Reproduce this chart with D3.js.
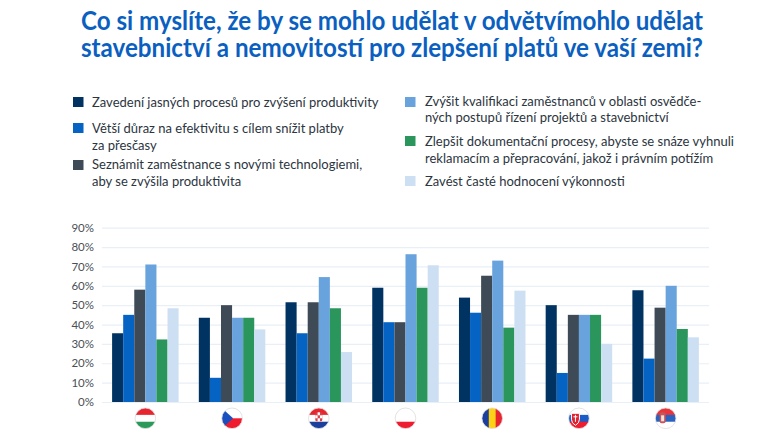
<!DOCTYPE html>
<html><head><meta charset="utf-8">
<script src="https://cdnjs.cloudflare.com/ajax/libs/d3/7.8.5/d3.min.js"></script>
<style>html,body{margin:0;padding:0;background:#fff}svg{display:block;font-family:Lato,sans-serif}</style>
</head><body><svg id="c" width="780" height="438"></svg>
<script>
const titleLines=["Co si myslíte, že by se mohlo udělat v odvětvímohlo udělat","stavebnictví a nemovitostí pro zlepšení platů ve vaší zemi?"];
const countries=["Maďarsko","Česko","Chorvatsko","Polsko","Rumunsko","Slovensko","Srbsko"];
const seriesNames=["Zavedení jasných procesů pro zvýšení produktivity","Větší důraz na efektivitu s cílem snížit platby za přesčasy","Seznámit zaměstnance s novými technologiemi, aby se zvýšila produktivita","Zvýšit kvalifikaci zaměstnanců v oblasti osvědčených postupů řízení projektů a stavebnictví","Zlepšit dokumentační procesy, abyste se snáze vyhnuli reklamacím a přepracování, jakož i právním potížím","Zavést časté hodnocení výkonnosti"];
const legendLines=[["Zavedení jasných procesů pro zvýšení produktivity"],["Větší důraz na efektivitu s cílem snížit platby","za přesčasy"],["Seznámit zaměstnance s novými technologiemi,","aby se zvýšila produktivita"],["Zvýšit kvalifikaci zaměstnanců v oblasti osvědče-","ných postupů řízení projektů a stavebnictví"],["Zlepšit dokumentační procesy, abyste se snáze vyhnuli","reklamacím a přepracování, jakož i právním potížím"],["Zavést časté hodnocení výkonnosti"]];
const colors=["#003262","#0563c4","#3e4a56","#68a3de","#2a965c","#cde0f3"];
const s1=[35.5,43.5,51.5,59,53.9,50,57.7];
const s2=[45,12.5,35.5,41.2,46.1,15,22.4];
const s3=[58,50,51.5,41.2,65.2,45,48.7];
const s4=[71,43.5,64.5,76.3,73,45,60];
const s5=[32.3,43.5,48.4,59,38.4,45,37.7];
const s6=[48.4,37.5,25.8,70.6,57.5,30,33.4];
const series=[s1,s2,s3,s4,s5,s6];
const yTicks=[0,10,20,30,40,50,60,70,80,90];

const svg=d3.select("#c");
const tc="#0a5fc0";
svg.selectAll("text.t").data(titleLines).join("text").attr("class","t")
 .attr("x",392).attr("y",(d,i)=>[30,57][i]).attr("text-anchor","middle")
 .attr("font-size",26).attr("font-weight",700).attr("fill",tc)
 .text(d=>d).attr("textLength",622).attr("lengthAdjust","spacingAndGlyphs");

const legendPos=[[73,102,92,[107]],[73,128,92,[133,150]],[73,165,92,[169,186]],[405,102,425,[106,122]],[405,141,425,[146,163]],[405,181,425,[186]]];
legendLines.forEach((lines,i)=>{
 const [mx,my,tx,ys]=legendPos[i];
 svg.append("rect").attr("x",mx).attr("y",my-5).attr("width",10.5).attr("height",10).attr("fill",colors[i]);
 lines.forEach((l,j)=>svg.append("text").attr("x",tx).attr("y",ys[j]).attr("font-size",13).attr("fill","#2c3540").text(l));
});

const x=d3.scaleBand().domain(countries).range([102,709]).paddingInner(0.233).paddingOuter(0.1165);
const x1=d3.scaleBand().domain(d3.range(6)).range([0,x.bandwidth()]);
const y=d3.scaleLinear().domain([0,90]).range([402,227.7]);

svg.append("g").attr("transform","translate(102,0)")
 .call(d3.axisLeft(y).tickValues(yTicks).tickFormat(d=>d+"%").tickSize(-607).tickPadding(8))
 .call(g=>g.select(".domain").remove())
 .call(g=>g.selectAll("line").attr("stroke","#e8eff7").attr("stroke-width",1.2))
 .call(g=>g.selectAll("text").attr("font-family","Lato").attr("font-size",11.5).attr("fill","#4a4f55"));

series.forEach((vals,si)=>{
 svg.append("g").selectAll("rect").data(vals).join("rect")
  .attr("x",(d,i)=>x(countries[i])+x1(si)).attr("width",x1.bandwidth())
  .attr("y",d=>y(d)).attr("height",d=>y(0)-y(d)).attr("fill",colors[si]);
});

// flags: horizontal stripes as [fraction, colour], or vertical stripes
const flagH={"Maďarsko":["#e8252f","#ffffff","#2a9a5a"],"Chorvatsko":["#e8252f","#ffffff","#1c3f9c"],"Polsko":["#ffffff","#ffffff","#ee1c2e"].slice(0),"Slovensko":["#ffffff","#1a5cc8","#ee1c2e"],"Srbsko":["#e8343a","#2a62c0","#ffffff"]};
const flagV={"Rumunsko":["#1c3f9c","#fcd116","#e8252f"]};
const defs=svg.append("defs");
const r=10.3,fy=418.3;
countries.forEach((c,i)=>{
 const cx=x(c)+x.bandwidth()/2;
 defs.append("clipPath").attr("id","f"+i).append("circle").attr("cx",cx).attr("cy",fy).attr("r",r);
 const g=svg.append("g").attr("clip-path",`url(#f${i})`);
 g.append("rect").attr("x",cx-r).attr("y",fy-r).attr("width",2*r).attr("height",2*r).attr("fill","#fff");
 if(flagH[c]) flagH[c].forEach((col,k)=>g.append("rect").attr("x",cx-r).attr("y",fy-r+k*2*r/3).attr("width",2*r).attr("height",2*r/3+.3).attr("fill",col));
 if(flagV[c]) flagV[c].forEach((col,k)=>g.append("rect").attr("x",cx-r+k*2*r/3).attr("y",fy-r).attr("width",2*r/3+.3).attr("height",2*r).attr("fill",col));
 if(c==="Česko"){
  g.append("rect").attr("x",cx-r).attr("y",fy).attr("width",2*r).attr("height",r).attr("fill","#ee1c2e");
  g.append("path").attr("d",d3.line()([[cx-r,fy-r],[cx+1,fy],[cx-r,fy+r]])).attr("fill","#1a4fc0");
 }
 if(c==="Chorvatsko"){
  g.append("rect").attr("x",cx-3.5).attr("y",fy-6).attr("width",7).attr("height",9).attr("rx",1.5).attr("fill","#d8404a");
  [0,1,2].forEach(a=>[0,1,2].forEach(b=>{if((a+b)%2)g.append("rect").attr("x",cx-3.5+a*2.33).attr("y",fy-6+b*3).attr("width",2.33).attr("height",3).attr("fill","#fff");}));
 }
 if(c==="Slovensko"){
  g.append("path").attr("d",`M${cx-7.5},${fy-5}h8v6q0,4 -4,6q-4,-2 -4,-6z`).attr("fill","#e02230").attr("stroke","#fff").attr("stroke-width",1);
  g.append("path").attr("d",`M${cx-3.5},${fy-3.5}v7M${cx-5.5},${fy-1.5}h4`).attr("stroke","#fff").attr("stroke-width",1);
 }
 if(c==="Srbsko"){
  g.append("rect").attr("x",cx-6).attr("y",fy-6).attr("width",6).attr("height",11).attr("rx",2).attr("fill","#c8555a");
  g.append("rect").attr("x",cx-4.5).attr("y",fy-3).attr("width",3).attr("height",6).attr("fill","#f1e2d8");
 }
 svg.append("circle").attr("cx",cx).attr("cy",fy).attr("r",r).attr("fill","none").attr("stroke","#dcdcdc").attr("stroke-width",.8);
});
</script></body></html>
